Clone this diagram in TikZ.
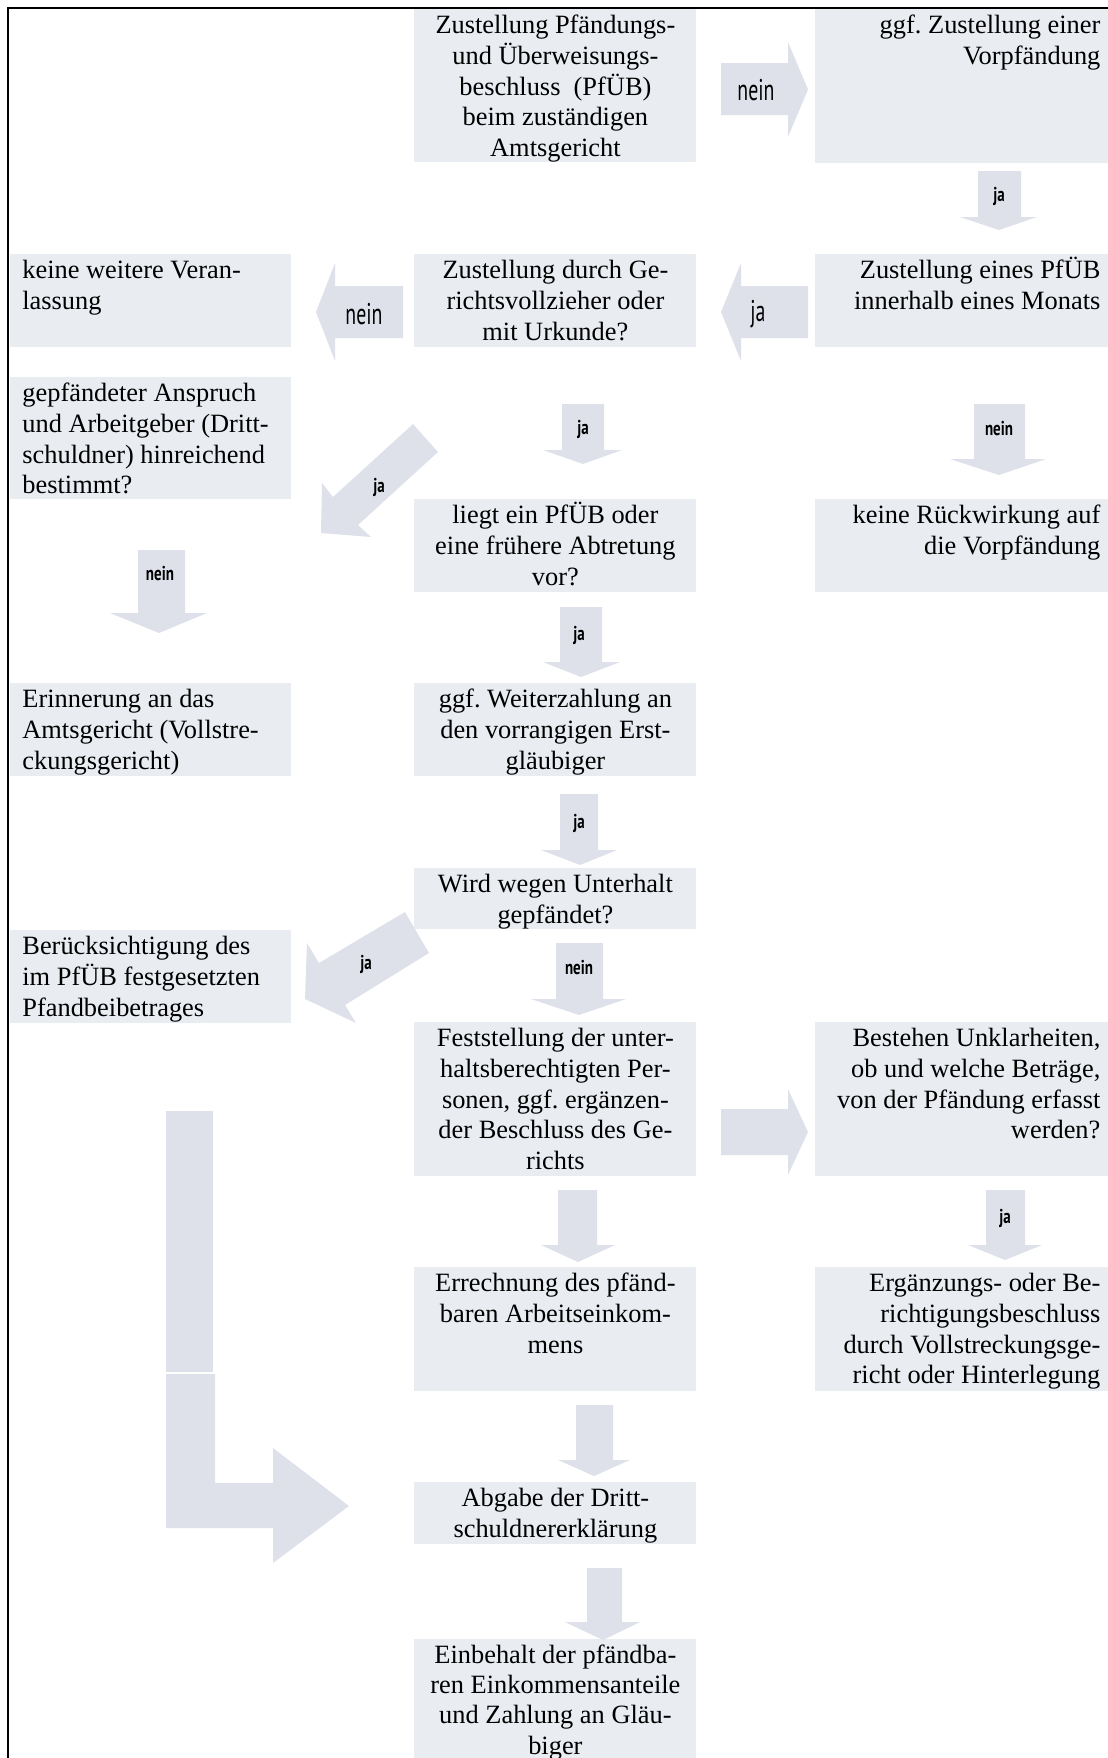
\documentclass[tikz,border=0pt]{standalone}
\usepackage{fontspec}
\usepackage{graphicx}
\setmainfont{Liberation Serif}
\newfontfamily\lblfont{PT Sans}
\definecolor{boxc}{RGB}{233,237,242}
\definecolor{arrc}{RGB}{222,225,234}
\frenchspacing
\newcommand\tstrut{\rule{0pt}{12pt}}
\newcommand\lblbig[1]{{\lblfont\fontsize{15pt}{15pt}\selectfont\scalebox{0.66}[1]{#1}}}
\newcommand\lblsmall[1]{{\lblfont\bfseries\fontsize{10pt}{10pt}\selectfont\scalebox{0.75}[1]{#1}}}
\newcommand\bxl[2]{\parbox[c][#1][t]{128.5pt}{\frenchspacing\raggedright\tstrut #2}}
\newcommand\bxm[2]{\parbox[c][#1][t]{133pt}{\frenchspacing\centering\tstrut #2}}
\newcommand\bxr[2]{\parbox[c][#1][t]{138.5pt}{\frenchspacing\raggedleft\tstrut #2}}
\tikzset{
  bx/.style={fill=boxc, inner ysep=0pt, anchor=north west, font=\fontsize{13.2pt}{15.4pt}\selectfont},
  lcol/.style={bx, inner xsep=6pt},
  mcol/.style={bx, inner xsep=4pt},
  rcol/.style={bx, inner xsep=4pt},
  arr/.style={fill=arrc},
  lbl/.style={inner sep=0pt}
}
\begin{document}
\begin{tikzpicture}[x=0.5pt,y=-0.5pt]
\useasboundingbox (0,0) rectangle (1108,1758);
\clip (0,0) rectangle (1108,1758);

% boxes
\node[mcol] (m1) at (414,9) {\bxm{76.5pt}{Zustellung Pfändungs-\\und Überweisungs-\\beschluss\ \ (PfÜB)\\beim zuständigen\\Amtsgericht}};
\node[rcol] (r1) at (815,9) {\bxr{77pt}{ggf. Zustellung einer\\Vorpfändung}};
\node[lcol] (l2) at (10,254) {\bxl{46.5pt}{keine weitere Veran-\\lassung}};
\node[mcol] (m2) at (414,254) {\bxm{46.5pt}{Zustellung durch Ge-\\richtsvollzieher oder\\mit Urkunde?}};
\node[rcol] (r2) at (815,254) {\bxr{46.5pt}{Zustellung eines PfÜB\\innerhalb eines Monats}};
\node[lcol] (l3) at (10,377) {\bxl{61pt}{gepfändeter Anspruch\\und Arbeitgeber (Dritt-\\schuldner) hinreichend\\bestimmt?}};
\node[mcol] (m3) at (414,499) {\bxm{46.5pt}{liegt ein PfÜB oder\\eine frühere Abtretung\\vor?}};
\node[rcol] (r3) at (815,499) {\bxr{46.5pt}{keine Rückwirkung auf\\die Vorpfändung}};
\node[lcol] (l4) at (10,683) {\bxl{46.5pt}{Erinnerung an das\\Amtsgericht (Vollstre-\\ckungsgericht)}};
\node[mcol] (m4) at (414,683) {\bxm{46.5pt}{ggf. Weiterzahlung an\\den vorrangigen Erst-\\gläubiger}};
\node[mcol] (m5) at (414,868) {\bxm{30.5pt}{Wird wegen Unterhalt\\gepfändet?}};
\node[lcol] (l5) at (10,930) {\bxl{46.5pt}{Berücksichtigung des\\im PfÜB festgesetzten\\Pfandbeibetrages}};
\node[mcol] (m6) at (414,1022) {\bxm{77pt}{Feststellung der unter-\\haltsberechtigten Per-\\sonen, ggf. ergänzen-\\der Beschluss des Ge-\\richts}};
\node[rcol] (r6) at (815,1022) {\bxr{77pt}{Bestehen Unklarheiten,\\ob und welche Beträge,\\von der Pfändung erfasst\\werden?}};
\node[mcol] (m7) at (414,1267) {\bxm{62pt}{Errechnung des pfänd-\\baren Arbeitseinkom-\\mens}};
\node[rcol] (r7) at (815,1267) {\bxr{62pt}{Ergänzungs- oder Be-\\richtigungsbeschluss\\durch Vollstreckungsge-\\richt oder Hinterlegung}};
\node[mcol] (m8) at (414,1482) {\bxm{31pt}{Abgabe der Dritt-\\schuldnererklärung}};
\node[mcol, font=\fontsize{13.2pt}{15.1pt}\selectfont] (m9) at (414,1639) {\bxm{63pt}{Einbehalt der pfändba-\\ren Einkommensanteile\\und Zahlung an Gläu-\\biger}};

% block arrows
\fill[arr] (721,63) -- (788,63) -- (788,42) -- (808,89.5) -- (788,137) -- (788,115) -- (721,115) -- cycle;
\node[lbl] (t1) at (756,90) {\lblbig{nein}};

\fill[arr] (978,171) -- (1021,171) -- (1021,217) -- (1037,217) -- (999,230) -- (960,217) -- (978,217) -- cycle;
\node[lbl] (t2) at (999,196) {\lblsmall{ja}};

\fill[arr] (808,286) -- (741,286) -- (741,263) -- (721,312) -- (741,361) -- (741,338) -- (808,338) -- cycle;
\node[lbl] (t3) at (758,314) {\lblbig{ja}};

\fill[arr] (403,286) -- (335,286) -- (335,263) -- (316,312) -- (335,361) -- (335,338) -- (403,338) -- cycle;
\node[lbl] (t4) at (364,314) {\lblbig{nein}};

\fill[arr] (562,404) -- (604,404) -- (604,450) -- (622,450) -- (583,464) -- (543,450) -- (562,450) -- cycle;
\node[lbl] (t5) at (583,429) {\lblsmall{ja}};

\fill[arr] (974,404) -- (1025,404) -- (1025,459) -- (1046,459) -- (999,475) -- (950,459) -- (974,459) -- cycle;
\node[lbl] (t6) at (999,429) {\lblsmall{nein}};

\fill[arr] (413,424) -- (438,452) -- (358,525) -- (371,537) -- (321,533) -- (322,483) -- (333,497) -- cycle;
\node[lbl] (t7) at (379,487) {\lblsmall{ja}};

\fill[arr] (138,550) -- (185,550) -- (185,613) -- (207,613) -- (159,633) -- (110,613) -- (138,613) -- cycle;
\node[lbl] (t8) at (160,574) {\lblsmall{nein}};

\fill[arr] (560,607) -- (602,607) -- (602,662) -- (620,662) -- (581,677) -- (543,662) -- (560,662) -- cycle;
\node[lbl] (t9) at (579,635) {\lblsmall{ja}};

\fill[arr] (560,794) -- (598,794) -- (598,850) -- (617,850) -- (580,865) -- (541,850) -- (560,850) -- cycle;
\node[lbl] (t10) at (579,823) {\lblsmall{ja}};

\fill[arr] (556,943) -- (603,943) -- (603,999) -- (626,999) -- (579,1015) -- (531,999) -- (556,999) -- cycle;
\node[lbl] (t11) at (579,968) {\lblsmall{nein}};

\fill[arr] (405,912) -- (429,953) -- (345,1005) -- (356,1023) -- (305,999) -- (307,943) -- (319,963) -- cycle;
\node[lbl] (t12) at (366,964) {\lblsmall{ja}};

\fill[arr] (721,1109) -- (788,1109) -- (788,1089) -- (808,1132) -- (788,1175) -- (788,1155) -- (721,1155) -- cycle;

\fill[arr] (558,1190) -- (597,1190) -- (597,1245) -- (615,1245) -- (578,1262) -- (541,1245) -- (558,1245) -- cycle;

\fill[arr] (986,1190) -- (1025,1190) -- (1025,1245) -- (1042,1245) -- (1005,1260) -- (968,1245) -- (986,1245) -- cycle;
\node[lbl] (t15) at (1005,1218) {\lblsmall{ja}};

\fill[arr] (166,1111) rectangle (213,1372);
\fill[arr] (166,1374) -- (215,1374) -- (215,1483) -- (273,1483) -- (273,1448) -- (349,1506) -- (273,1563) -- (273,1528) -- (166,1528) -- cycle;

\fill[arr] (576,1405) -- (613,1405) -- (613,1460) -- (630,1460) -- (594,1476) -- (558,1460) -- (576,1460) -- cycle;

\fill[arr] (587,1568) -- (622,1568) -- (622,1622) -- (640,1622) -- (603,1640) -- (565,1622) -- (587,1622) -- cycle;

% frame
\draw[line width=1pt] (8,1760) -- (8,8) -- (1110,8);
\end{tikzpicture}
\end{document}
